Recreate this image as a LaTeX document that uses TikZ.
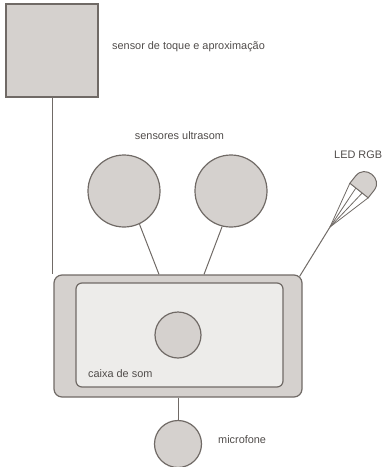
\documentclass[tikz,border=0pt]{standalone}
\usepackage{fontspec}
\setmainfont{Liberation Sans}
\usepackage{xcolor}
\usepackage{tikz}
\definecolor{traco}{RGB}{112,106,102}
\definecolor{cinza}{RGB}{213,209,206}
\definecolor{claro}{RGB}{237,236,234}
\definecolor{texto}{RGB}{80,76,74}

\begin{document}
\begin{tikzpicture}[x=1pt,y=-1pt,
    peca/.style={draw=traco,line width=1.2pt,fill=cinza,inner sep=0pt},
    fio/.style={draw=traco,line width=1pt},
    rotulo/.style={text=texto,font=\fontsize{10.9}{12}\selectfont,inner sep=0pt,anchor=west}]
\useasboundingbox (0,0) rectangle (384,467);
\node[peca,minimum width=92pt,minimum height=93pt] (toque) at (52,50.5) {};
\node[peca,circle,minimum size=72pt] (usesq) at (124,191) {};
\node[peca,circle,minimum size=72pt] (usdir) at (231,191) {};
\node[peca,rounded corners=8pt,minimum width=248pt,minimum height=122pt] (caixa) at (178,336) {};
\node[peca,fill=claro,rounded corners=6pt,minimum width=207pt,minimum height=104pt] (painel) at (179.5,335) {};
\node[peca,circle,minimum size=46pt] (alto) at (178,335) {};
\node[peca,circle,minimum size=47pt] (mic) at (178,444) {};
\coordinate (ledp) at (330,227);
\draw[fio] (toque.south) -- (toque.south |- caixa.north);
\draw[fio] (usesq.-65) -- ([xshift=-19pt]caixa.north);
\draw[fio] (usdir.-104) -- ([xshift=26pt]caixa.north);
\draw[fio] (caixa.south) -- (mic.north);
\draw[fio] ([shift={(-3,2)}]caixa.north east) -- (ledp);
\begin{scope}[shift={(ledp)},rotate=51.5]
    \foreach \b in {-11.7,-4,4,11.7}
        \draw[fio,line width=0.8pt] (0,0) -- (46.6,\b);
    \draw[peca,line width=1pt] (46.6,-11.7) -- (56,-11.7) .. controls (71,-11.7) and (71,11.7) .. (56,11.7) -- (46.6,11.7) -- cycle;
\end{scope}
\node[rotulo] (ltoque) at (112,47) {sensor de toque e aproximação};
\node[rotulo,anchor=center] (lus) at (179.5,136) {sensores ultrasom};
\node[rotulo] (lled) at (334,155) {LED RGB};
\node[rotulo] (lcaixa) at (88,374) {caixa de som};
\node[rotulo] (lmic) at (218,440) {microfone};
\end{tikzpicture}
\end{document}
